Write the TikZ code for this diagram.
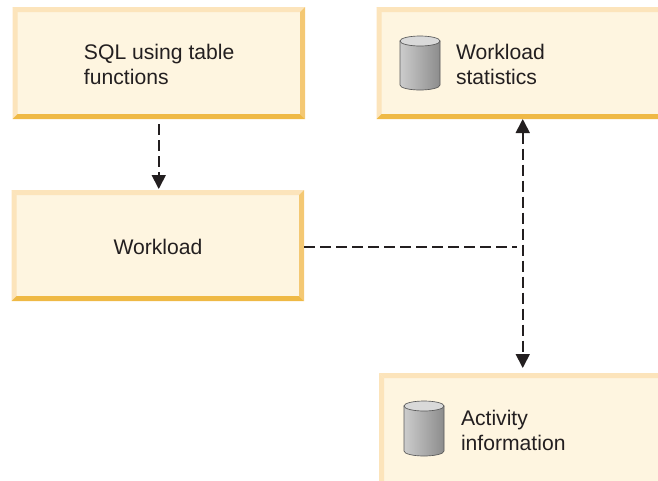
\documentclass[tikz,border=0pt]{standalone}
\usepackage{fontspec}
\setmainfont{Liberation Sans}
\usetikzlibrary{arrows.meta}
\definecolor{boxfill}{HTML}{FEF5E0}
\definecolor{bevlight}{HTML}{FCE4BB}
\definecolor{bevright}{HTML}{F4C873}
\definecolor{bevbottom}{HTML}{EFB945}
\definecolor{ink}{HTML}{231F20}
\tikzset{
  panel/.style={fill=boxfill,inner sep=0pt,outer sep=0pt,rectangle},
  label/.style={font=\fontsize{15.85pt}{18.75pt}\selectfont,text=ink,align=left,inner sep=0pt,outer sep=0pt},
  flow/.style={draw=ink,line width=1.3pt,dash pattern=on 8.2pt off 3.8pt},
  tip/.style={-{Triangle[length=10.5pt,width=10.5pt,color=ink,sep=0pt]}},
  tips/.style={{Triangle[length=10.5pt,width=10.5pt,color=ink]}-{Triangle[length=10.5pt,width=10.5pt,color=ink]}},
}
% name, x1, y1, x2, y2 (pixel coordinates)
\newcommand{\bevbox}[5]{%
  \node[panel,minimum width={(#4-#2)*0.75pt},minimum height={(#5-#3)*0.75pt}] (#1) at ({(#2+#4)/2},{(#3+#5)/2}) {};
  \fill[bevlight] (#2,#3) -- (#4,#3) -- (#4-5,#3+5) -- (#2+5,#3+5) -- cycle;
  \fill[bevlight] (#2,#3) -- (#2+5,#3+5) -- (#2+5,#5-5) -- (#2,#5) -- cycle;
  \fill[bevright] (#4,#3) -- (#4-5,#3+5) -- (#4-5,#5-5) -- (#4,#5) -- cycle;
  \fill[bevbottom] (#2,#5) -- (#2+5,#5-5) -- (#4-5,#5-5) -- (#4,#5) -- cycle;
}
% x1, y-top, y-bottom
\newcommand{\drum}[3]{%
  \path[left color=black!20,right color=black!45,draw=black!65,line width=0.5pt]
    (#1,#2+5) -- (#1,#3-5) arc[start angle=180,end angle=0,x radius=20,y radius=5] -- (#1+40,#2+5) -- cycle;
  \path[fill=black!15,draw=black!65,line width=0.5pt]
    (#1+20,#2+5) ellipse[x radius=20,y radius=5];
}
\begin{document}
\begin{tikzpicture}[x=0.75pt,y=-0.75pt]
\useasboundingbox (0,0) rectangle (658,480);
\clip (0,0) rectangle (658,480);
\bevbox{sql}{12.5}{7}{305}{119}
\bevbox{workload}{11.5}{190}{304}{301}
\bevbox{stats}{376.5}{7}{690}{119}
\bevbox{activity}{379}{373}{690}{500}
\drum{400}{36}{90}
\drum{404}{401}{456}
\node[label,anchor=west] (sqltext) at (84,64) {SQL using table\\functions};
\node[label,anchor=center] (worktext) at (158,247) {Workload};
\node[label,anchor=west] (statstext) at (456,64) {Workload\\statistics};
\node[label,anchor=west] (acttext) at (461,430) {Activity\\information};
\coordinate (bus) at (522.75,246.75);
\draw[flow,tip,shorten <=3.75pt,shorten >=0.75pt] (sql.south) -- (sql.south |- workload.north);
\draw[flow,shorten >=4.5pt] (workload.east |- bus) -- (bus);
\draw[flow,tips,shorten >=3.75pt] (stats.south -| bus) -- (activity.north -| bus);
\end{tikzpicture}
\end{document}
